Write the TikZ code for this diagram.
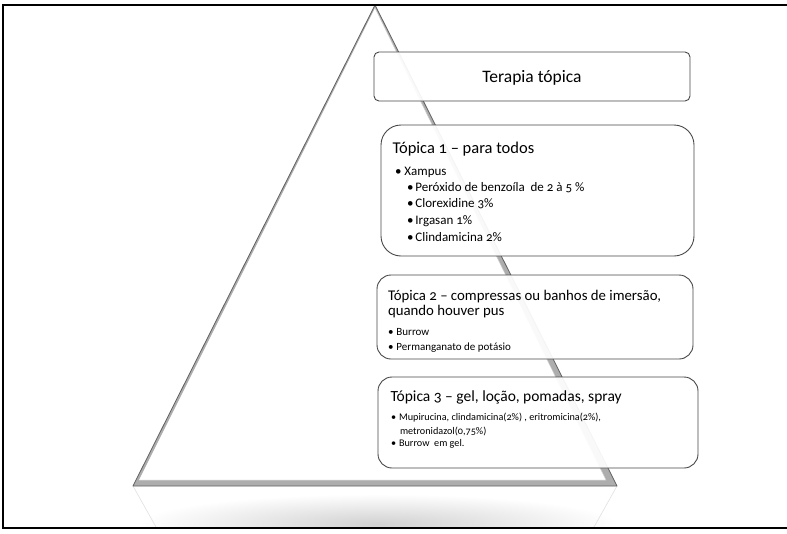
\documentclass[tikz,border=0pt]{standalone}
\usepackage{fontspec}
\setmainfont{Carlito}[Numbers=OldStyle]
\begin{document}
\begin{tikzpicture}[x=1pt, y=-1pt,
    every node/.style={inner sep=0pt, outer sep=0pt},
    level/.style={draw=black!72, line width=0.9pt, fill=white, fill opacity=0.93,
                  rounded corners=#1, anchor=north west},
    head/.style={anchor=base west, font=\fontsize{#1}{#1}\selectfont},
    item/.style={anchor=base west, font=\fontsize{#1}{#1}\selectfont},
  ]
  \useasboundingbox (0,0) rectangle (787,533);

  % --- shadow and reflection under the pyramid ---
  \begin{scope}
    \clip (0,492) rectangle (787,527);
    \shade[inner color=black!18, outer color=white] (378,524) ellipse [x radius=240, y radius=30];
  \end{scope}
  \coordinate (apex) at (375,5);
  \coordinate (bl) at (133,486);
  \coordinate (br) at (617,486);
  \coordinate (rl) at (156,527);
  \coordinate (rr) at (594,527);
  \draw[black!12, line width=0.6pt] (bl) -- (rl);
  \draw[black!12, line width=0.6pt] (br) -- (rr);

  % --- pyramid ---
  \fill[black!32] (apex) -- (bl) -- (br) -- cycle;
  \fill[white] (375,8) -- (139,480) -- (606,480) -- cycle;
  \draw[black!20, line width=0.5pt] (375,8) -- (606,480) -- (139,480);
  \draw[black!62, line width=0.8pt, line join=round] (apex) -- (bl) -- (br) -- cycle;

  % --- frame ---
  \draw[line width=2pt] (787,5) -- (3,5) -- (3,528) -- (787,528);

  % --- levels ---
  \node[level=5pt, minimum width=316pt, minimum height=49pt] (top) at (374,52) {};
  \node[level=20pt, minimum width=313pt, minimum height=131pt] (lv1) at (381,125) {};
  \node[level=14pt, minimum width=316pt, minimum height=84pt] (lv2) at (377,275) {};
  \node[level=14pt, minimum width=320pt, minimum height=91pt] (lv3) at (378,377) {};

  % --- texts ---
  \node[anchor=base, font=\fontsize{17.5}{17.5}\selectfont] (ttop) at (532,82) {Terapia tópica};

  \node[head=16.5] (t1) at (392.5,153.3) {Tópica 1 – para todos};
  \node[item=13] (x1) at (395,175) {\textbullet\hspace{3pt}Xampus};
  \foreach \txt [count=\i] in {Peróxido de benzoíla\ \ de 2 à 5 \%, Clorexidine 3\%,
      Irgasan 1\%, Clindamicina 2\%} {
    \node[item=13] (s\i) at (407,174.3+\i*16.7) {\textbullet\hspace{2pt}\txt};
  }

  \node[head=14.8] (t2) at (388,300) {Tópica 2 – compressas ou banhos de imersão,};
  \node[head=14.8] (t2b) at (388,315) {quando houver pus};
  \node[item=11] (b1) at (388,335.3) {\textbullet\hspace{3pt}Burrow};
  \node[item=11] (b2) at (388,350) {\textbullet\hspace{3pt}Permanganato de potásio};

  \node[head=15.5] (t3) at (390.5,401.7) {Tópica 3 – gel, loção, pomadas, spray};
  \node[item=10.2] (c1) at (391,420.7) {\textbullet\hspace{3pt}Mupirucina, clindamicina(2\%) , eritromicina(2\%),};
  \node[item=10.2] (c1b) at (400,434) {metronidazol(0,75\%)};
  \node[item=10.2] (c2) at (391,446.7) {\textbullet\hspace{3pt}Burrow\ \ em gel.};
\end{tikzpicture}
\end{document}
